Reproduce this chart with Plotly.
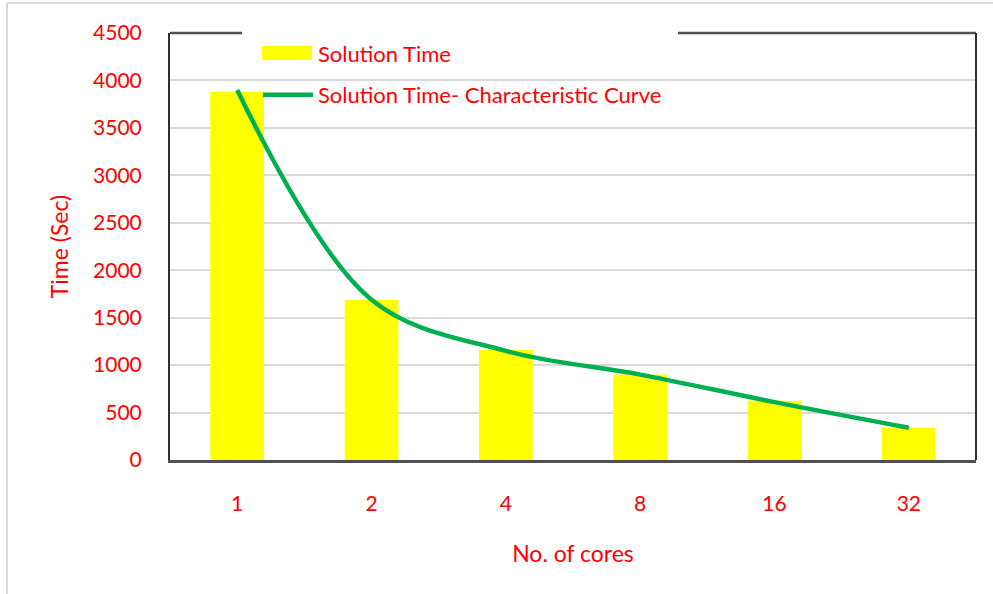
import plotly.graph_objects as go

categories = ["1", "2", "4", "8", "16", "32"]
bar_values = [3880, 1690, 1160, 900, 625, 340]
curve_values = [3900, 1690, 1150, 900, 610, 340]
y_ticks = [0, 500, 1000, 1500, 2000, 2500, 3000, 3500, 4000, 4500]

W, H = 993, 594
L, R, T, B = 170, 17, 33, 134
pw, ph = W - L - R, H - T - B

FONT = "Lato"
RED = "#FF0000"


def px_x(p):
    return (p - L) / pw


def px_y(p):
    return 1 - (p - T) / ph


fig = go.Figure()
fig.add_trace(go.Bar(
    x=categories, y=bar_values, name="Solution Time",
    marker=dict(color="#FFFF00", line=dict(width=0)),
    legend="legend",
))
fig.add_trace(go.Scatter(
    x=categories, y=curve_values, name="Solution Time- Characteristic Curve",
    mode="lines", line=dict(color="#00B050", width=4.5, shape="spline", smoothing=1.0),
    legend="legend2",
))

leg_common = dict(xanchor="left", yanchor="top", bgcolor="rgba(0,0,0,0)", borderwidth=0,
                  font=dict(family=FONT, color=RED, size=22), itemwidth=50)

fig.update_layout(
    width=W, height=H,
    margin=dict(l=L, r=R, t=T, b=B),
    paper_bgcolor="white", plot_bgcolor="white",
    bargap=0.6,
    font=dict(family=FONT, color=RED, size=21),
    legend=dict(x=px_x(258), y=px_y(33), **leg_common),
    legend2=dict(x=px_x(258), y=px_y(74), **leg_common),
    showlegend=True,
)
fig.update_xaxes(
    type="category",
    showline=True, linecolor="#505050", linewidth=2.5, mirror=False,
    showgrid=False, ticks="",
    ticklabelstandoff=23,
    tickfont=dict(family=FONT, color=RED, size=21),
    title=dict(text="No. of cores", font=dict(family=FONT, color=RED, size=23), standoff=32),
)
fig.update_yaxes(
    range=[0, 4500], tickvals=y_ticks, ticktext=[str(v) for v in y_ticks],
    showline=True, linecolor="#303030", linewidth=2, mirror=False,
    showgrid=True, gridcolor="#D9D9D9", gridwidth=1.5,
    zeroline=False, ticks="",
    ticklabelstandoff=22,
    tickfont=dict(family=FONT, color=RED, size=21),
    title=dict(text="Time (Sec)", font=dict(family=FONT, color=RED, size=23), standoff=18),
)

# white legend area hiding gridlines behind it
fig.add_shape(type="rect", xref="paper", yref="paper",
              x0=px_x(242), x1=px_x(678), y0=px_y(88), y1=px_y(31),
              fillcolor="white", line=dict(width=0), layer="between")
# top border segments (interrupted by legend area) and right border
fig.add_shape(type="line", xref="paper", yref="paper", x0=0, x1=px_x(242), y0=1, y1=1,
              line=dict(color="#505050", width=2.5))
fig.add_shape(type="line", xref="paper", yref="paper", x0=px_x(678), x1=1, y0=1, y1=1,
              line=dict(color="#505050", width=2.5))
fig.add_shape(type="line", xref="paper", yref="paper", x0=1, x1=1, y0=0, y1=1,
              line=dict(color="#303030", width=2))
# wide yellow legend key
fig.add_shape(type="rect", xref="paper", yref="paper",
              x0=px_x(262), x1=px_x(312), y0=px_y(60), y1=px_y(46),
              fillcolor="#FFFF00", line=dict(width=0), layer="above")

# light outer frame (left and top edges of the original chart area)
x_left = (7 - L) / pw
y_top = 1 + (T - 3) / ph
fig.add_shape(type="line", xref="paper", yref="paper", x0=x_left, x1=(W - L) / pw,
              y0=y_top, y1=y_top, line=dict(color="#D9D9D9", width=2), layer="below")
fig.add_shape(type="line", xref="paper", yref="paper", x0=x_left, x1=x_left,
              y0=y_top, y1=-B / ph, line=dict(color="#D9D9D9", width=2), layer="below")

fig.write_html("out.html")
